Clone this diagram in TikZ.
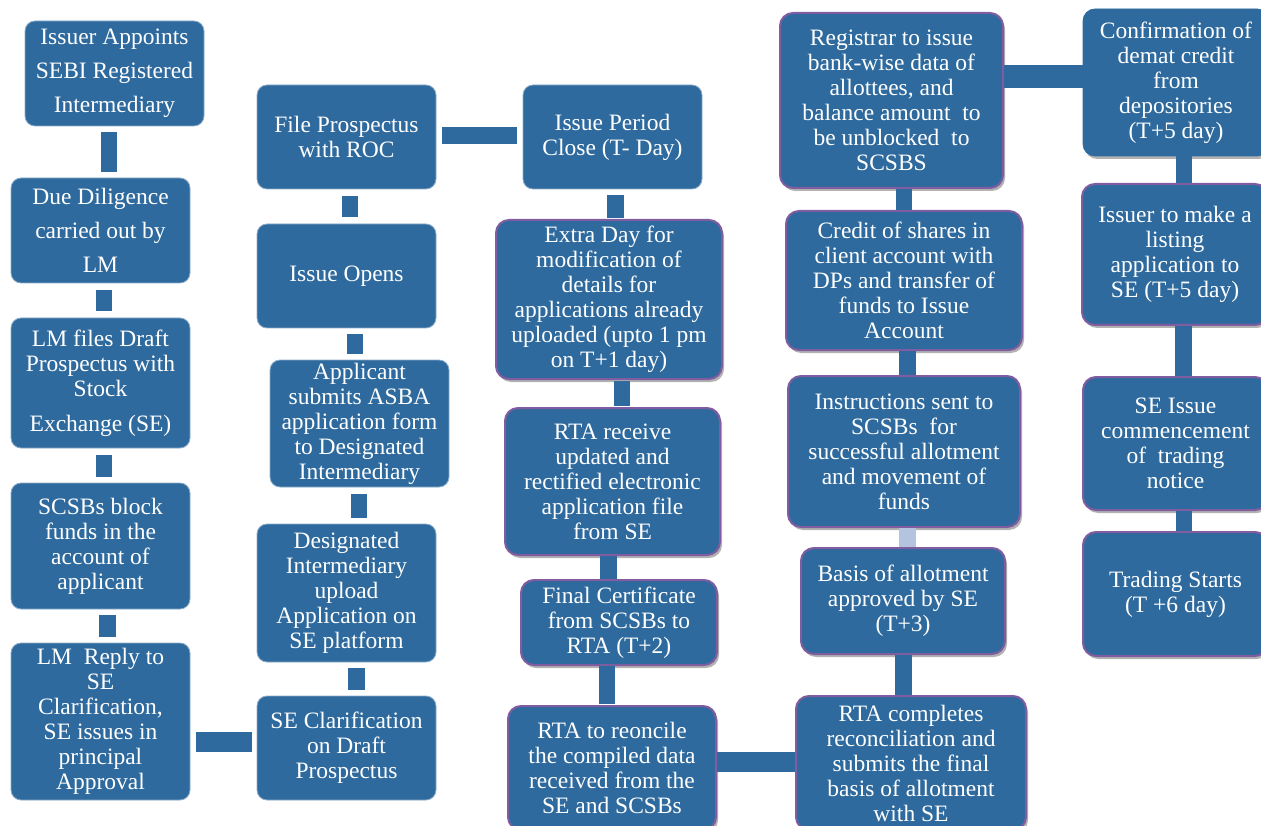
\documentclass[tikz,border=0pt]{standalone}
\usepackage{fontspec}
\setmainfont{Liberation Serif}
\usetikzlibrary{shadows}
\definecolor{boxblue}{RGB}{46,106,158}
\definecolor{boxpurple}{RGB}{128,92,160}
\definecolor{lightconn}{RGB}{180,196,222}
\tikzset{
  box/.style={rectangle, rounded corners=10pt, fill=boxblue, draw=boxblue!55!white,
    line width=0.8pt, text=white, align=center, inner sep=0pt,
    font=\fontsize{23.5}{25}\selectfont},
  sbox/.style={box, rounded corners=12pt, draw=boxblue,
    drop shadow={shadow xshift=2pt, shadow yshift=-3pt, opacity=0.3, fill=black}},
  pbox/.style={box, rounded corners=13pt, draw=boxpurple, line width=2pt,
    drop shadow={shadow xshift=2pt, shadow yshift=-3pt, opacity=0.3, fill=black}},
  conn/.style={draw=boxblue, line width=16.5pt},
  lconn/.style={draw=lightconn, line width=16.5pt},
}
\begin{document}
\begin{tikzpicture}[x=1pt,y=-1pt]
\useasboundingbox (0,0) rectangle (1261,826);
\clip (0,0) rectangle (1261,826);
\fill[white] (0,0) rectangle (1261,826);

% column 1
\node[box, minimum width=179, minimum height=105, font=\fontsize{23.5}{34}\selectfont] (b1) at (114.5,73.5) {Issuer Appoints\\SEBI Registered\\Intermediary};
\node[box, minimum width=179, minimum height=105, font=\fontsize{23.5}{34}\selectfont] (b2) at (100.5,230.5) {Due Diligence\\carried out by\\LM};
\node[box, minimum width=179, minimum height=130] (b3) at (100.5,383) {LM files Draft\\Prospectus with\\Stock\\[10pt]Exchange (SE)};
\node[box, minimum width=179, minimum height=126] (b4) at (100.5,546) {SCSBs block\\funds in the\\account of\\applicant};
\node[box, minimum width=179, minimum height=157] (b5) at (100.5,721.5) {LM~ Reply to\\SE\\Clarification,\\SE issues in\\principal\\Approval};

% column 2
\node[box, minimum width=179, minimum height=104] (b6) at (346.5,137) {File Prospectus\\with ROC};
\node[box, minimum width=179, minimum height=104] (b7) at (346.5,276) {Issue Opens};
\node[box, minimum width=179, minimum height=127] (b8) at (359.5,423.5) {Applicant\\submits ASBA\\application form\\to Designated\\Intermediary};
\node[box, minimum width=179, minimum height=138] (b9) at (346.5,593) {Designated\\Intermediary\\upload\\Application on\\SE platform};
\node[box, minimum width=179, minimum height=104] (b10) at (346.5,748) {SE Clarification\\on Draft\\Prospectus};

% column 3
\node[box, minimum width=179, minimum height=104] (b11) at (612.5,137) {Issue Period\\Close (T- Day)};
\node[pbox, minimum width=226, minimum height=159] (b12) at (609,299.5) {Extra Day for\\modification of\\details for\\applications already\\uploaded (upto 1 pm\\on T+1 day)};
\node[pbox, minimum width=215, minimum height=147] (b13) at (612.5,481.5) {RTA receive\\updated and\\rectified electronic\\application file\\from SE};
\node[pbox, minimum width=196, minimum height=85] (b14) at (619,622.5) {Final Certificate\\from SCSBs to\\RTA (T+2)};
\node[pbox, minimum width=208, minimum height=124] (b15) at (612,768) {RTA to reoncile\\the compiled data\\received from the\\SE and SCSBs};

% column 4
\node[pbox, minimum width=223, minimum height=175] (b16) at (891.5,100.5) {Registrar to issue\\bank-wise data of\\allottees, and\\balance amount~ to\\be unblocked~ to\\SCSBS};
\node[pbox, minimum width=236, minimum height=139] (b17) at (904,280.5) {Credit of shares in\\client account with\\DPs and transfer of\\funds to Issue\\Account};
\node[pbox, minimum width=232, minimum height=151] (b18) at (904,451.5) {Instructions sent to\\SCSBs~ for\\successful allotment\\and movement of\\funds};
\node[pbox, minimum width=204, minimum height=106] (b19) at (903,601) {Basis of allotment\\approved by SE\\(T+3)};
\node[pbox, minimum width=230, minimum height=134] (b20) at (911,763) {RTA completes\\reconciliation and\\submits the final\\basis of allotment\\with SE};

% column 5
\node[sbox, minimum width=186, minimum height=147] (b21) at (1176,82.5) {Confirmation of\\demat credit\\from\\depositories\\(T+5 day)};
\node[pbox, minimum width=186, minimum height=141] (b22) at (1175,254.5) {Issuer to make a\\listing\\application to\\SE (T+5 day)};
\node[pbox, minimum width=185, minimum height=133] (b23) at (1175.5,443.5) {SE Issue\\commencement\\of~ trading\\notice};
\node[pbox, minimum width=185, minimum height=124] (b24) at (1175.5,594) {Trading Starts\\(T +6 day)};

% vertical connectors
\draw[conn, shorten <=6pt, shorten >=6pt] (109,0 |- b1.south) -- (109,0 |- b2.north);
\draw[conn, shorten <=7pt, shorten >=7pt] (104,0 |- b2.south) -- (104,0 |- b3.north);
\draw[conn, shorten <=7pt, shorten >=6pt] (104,0 |- b3.south) -- (104,0 |- b4.north);
\draw[conn, shorten <=6pt, shorten >=6pt] (107.5,0 |- b4.south) -- (107.5,0 |- b5.north);

\draw[conn, shorten <=7pt, shorten >=7pt] (350,0 |- b6.south) -- (350,0 |- b7.north);
\draw[conn, shorten <=6pt, shorten >=6pt] (355,0 |- b7.south) -- (355,0 |- b8.north);
\draw[conn, shorten <=7pt, shorten >=6pt] (359,0 |- b8.south) -- (359,0 |- b9.north);
\draw[conn, shorten <=6pt, shorten >=6pt] (356.5,0 |- b9.south) -- (356.5,0 |- b10.north);

\draw[conn, shorten <=6pt, shorten >=1pt] (615.5,0 |- b11.south) -- (615.5,0 |- b12.north);
\draw[conn, shorten <=1pt, shorten >=1pt] (622,0 |- b12.south) -- (622,0 |- b13.north);
\draw[conn, shorten <=0pt, shorten >=0pt] (608.5,0 |- b13.south) -- (608.5,0 |- b14.north);
\draw[conn, shorten <=0pt, shorten >=1pt] (607,0 |- b14.south) -- (607,0 |- b15.north);

\draw[conn] (904,0 |- b16.south) -- (904,0 |- b17.north);
\draw[conn] (907.5,0 |- b17.south) -- (907.5,0 |- b18.north);
\draw[lconn] (907.5,0 |- b18.south) -- (907.5,0 |- b19.north);
\draw[conn] (903.5,0 |- b19.south) -- (903.5,0 |- b20.north);

\draw[conn] (1184,0 |- b21.south) -- (1184,0 |- b22.north);
\draw[conn] (1183.5,0 |- b22.south) -- (1183.5,0 |- b23.north);
\draw[conn] (1184,0 |- b23.south) -- (1184,0 |- b24.north);

% horizontal connectors
\draw[conn, line width=20pt, shorten <=6pt, shorten >=5pt] (b5.east |- 0,742) -- (b10.west |- 0,742);
\draw[conn, line width=17pt, shorten <=6pt, shorten >=6pt] (b6.east |- 0,135.5) -- (b11.west |- 0,135.5);
\draw[conn, line width=20pt] (b15.east |- 0,762) -- (b20.west |- 0,762);
\draw[conn, line width=23pt] (b16.east |- 0,76.5) -- (b21.west |- 0,76.5);
\end{tikzpicture}
\end{document}
